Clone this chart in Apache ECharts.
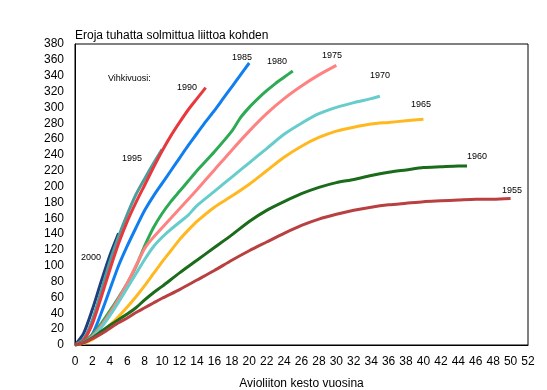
<!DOCTYPE html>
<html>
<head>
<meta charset="utf-8">
<script src="https://cdn.jsdelivr.net/npm/echarts@6/dist/echarts.min.js"></script>
<style>html,body{margin:0;padding:0;background:#fff}#c{width:547px;height:390px}</style>
</head>
<body>
<div id="c"></div>
<script>
// Cohorts (wedding year) and their colours
const cohorts = ['2000','1995','1990','1985','1980','1975','1970','1965','1960','1955'];
const colors  = ['#1d3f7e','#4e9d9d','#e8383d','#0f7ef0','#2eaa55','#ff8282','#66cccc','#ffb820','#1a6b1a','#b84040'];

// Duration of marriage (years) and cumulative divorces per 1000 marriages
const x2000 = [0,1,2,3,4,5];
const y2000 = [0,15,45,80,113,141];
const x1995 = [0,1,2,3,4,5,6,7,8,9,10];
const y1995 = [0,8,32,68,105,137,165,190,210,229,247];
const x1990 = [0,1,2,3,4,5,6,7,8,9,10,11,12,13,14,15];
const y1990 = [0,6,27,60,95,128,156,180,202,224,245,264,281,297,311,325];
const x1985 = [0,1,2,3,4,5,6,7,8,9,10,11,12,13,14,15,16,17,18,19,20];
const y1985 = [0,4,14,40,70,100,125,148,170,188,204,220,236,252,267,282,296,311,326,341,356];
const x1980 = [0,1,2,3,4,5,6,7,8,9,10,11,12,13,14,16,18,19,20,21,22,23,24,25];
const y1980 = [0,4,13,27,43,60,78,99,125,148,166,181,194,207,220,244,270,287,300,311,321,330,338,346];
const x1975 = [0,1,2,3,4,5,6,7,8,9,10,11,12,13,14,16,18,20,22,24,26,28,30];
const y1975 = [0,3,11,24,40,58,78,100,122,136,148,160,172,184,196,221,246,270,292,311,327,341,353];
const x1970 = [0,1,2,3,4,5,6,7,8,9,10,11,12,13,14,16,18,20,22,24,26,28,30,32,34,35];
const y1970 = [0,3,10,22,37,54,72,90,108,124,136,146,155,164,176,194,212,230,248,266,280,292,300,306,311,314];
const x1965 = [0,1,2,3,4,5,6,7,8,9,10,11,12,13,14,16,18,20,22,24,26,28,30,32,34,36,38,40];
const y1965 = [0,2,7,15,25,36,48,61,75,90,105,119,133,145,156,174,188,203,220,237,251,262,270,275,279,281,283,285];
const x1960 = [0,1,2,3,4,5,6,7,8,9,10,12,14,16,18,20,22,24,26,28,30,32,34,36,38,40,42,44,45];
const y1960 = [0,3,9,17,25,32,39,47,57,66,74,91,107,123,139,156,170,181,191,199,205,209,214,218,221,224,225,226,226];
const x1955 = [0,1,2,3,4,5,6,7,8,9,10,12,14,16,18,20,22,24,26,28,30,32,34,36,38,40,42,44,46,48,50];
const y1955 = [0,3,8,14,21,28,34,41,47,53,59,70,82,94,107,119,130,141,151,159,165,170,174,177,179,181,182,183,184,184,185];

const xs = [x2000,x1995,x1990,x1985,x1980,x1975,x1970,x1965,x1960,x1955];
const ys = [y2000,y1995,y1990,y1985,y1980,y1975,y1970,y1965,y1960,y1955];

// Axis ticks
const xMin = 0, xMax = 52, xStep = 2;
const yMin = 0, yMax = 380, yStep = 20;

const titleText = 'Eroja tuhatta solmittua liittoa kohden';
const xName = 'Avioliiton kesto vuosina';
const legendTitle = 'Vihkivuosi:';

const font = 'Liberation Sans, Arial, sans-serif';

const series = cohorts.map((c, i) => ({
  name: c,
  type: 'line',
  data: xs[i].map((x, j) => [x, ys[i][j]]),
  showSymbol: false,
  smooth: 0.25,
  lineStyle: { width: 3, color: colors[i] },
  itemStyle: { color: colors[i] },
  z: 2 + i,
  animation: false
}));

const labelPos = {
  '2000': [81, 258], '1995': [122, 159], '1990': [177, 88], '1985': [232, 58],
  '1980': [267, 62], '1975': [322, 56], '1970': [370, 76], '1965': [411, 105],
  '1960': [467, 157], '1955': [502, 191]
};
const graphics = [{
  type: 'text', x: 108, y: 79,
  style: { text: legendTitle, fill: '#000', font: '9px ' + font, textVerticalAlign: 'middle', verticalAlign: 'middle' }
}].concat(cohorts.map(c => ({
  type: 'text', x: labelPos[c][0], y: labelPos[c][1],
  style: { text: c, fill: '#000', font: '9px ' + font, textVerticalAlign: 'middle', verticalAlign: 'middle' }
})));

const chart = echarts.init(document.getElementById('c'), null, { renderer: 'canvas' });
chart.setOption({
  animation: false,
  backgroundColor: '#fff',
  title: {
    text: titleText, left: 75, top: 30, padding: 0,
    textStyle: { fontFamily: font, fontSize: 12, fontWeight: 'normal', color: '#000' }
  },
  grid: { left: 75, right: 19, top: 44, bottom: 45, show: true, borderColor: '#000', borderWidth: 1, backgroundColor: 'transparent', containLabel: false, outerBoundsMode: 'none' },
  xAxis: {
    type: 'value', min: xMin, max: xMax, interval: xStep,
    name: xName, nameLocation: 'middle', nameGap: 33,
    nameTextStyle: { fontFamily: font, fontSize: 12, color: '#000' },
    axisLine: { show: true, lineStyle: { color: '#000', width: 1 } },
    axisTick: { show: false },
    splitLine: { show: false },
    axisLabel: { fontFamily: font, fontSize: 12, color: '#000', margin: 11 }
  },
  yAxis: {
    type: 'value', min: yMin, max: yMax, interval: yStep,
    axisLine: { show: true, lineStyle: { color: '#000', width: 1 } },
    axisTick: { show: false },
    splitLine: { show: false },
    axisLabel: { fontFamily: font, fontSize: 12, color: '#000', margin: 11 }
  },
  graphic: graphics,
  series: series
});
</script>
</body>
</html>
